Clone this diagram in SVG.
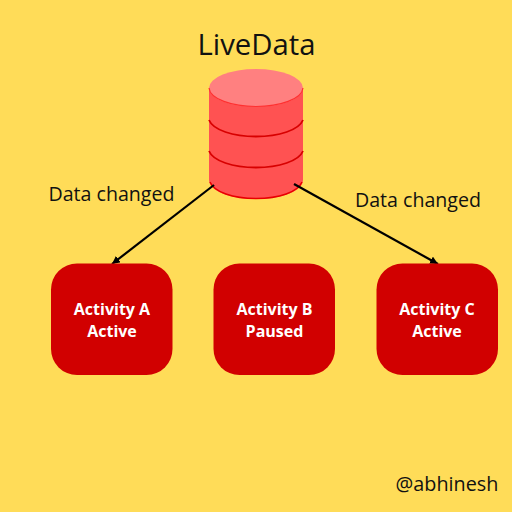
<svg xmlns="http://www.w3.org/2000/svg" width="512" height="512" viewBox="0 0 512 512">
<style>
.t{font-family:"Open Sans","Noto Sans",sans-serif;fill:#111}
.b{fill:#d10000}
.w{font-family:"Open Sans","Noto Sans",sans-serif;font-size:16px;font-weight:700;fill:#fff;text-anchor:middle}
.c{stroke:#000;stroke-width:2.200;fill:none;marker-end:url(#a)}
.r{fill:none;stroke:#d80000;stroke-width:1.800}
</style>
<defs><marker id="a" markerUnits="userSpaceOnUse" markerWidth="10" markerHeight="10" refX="8" refY="4" orient="auto"><path d="M0 0L8 4L0 8Z" fill="#000"/></marker></defs>
<rect width="512" height="512" fill="#ffdc58"/>
<text class="t" x="256.500" y="54.500" font-size="29.300" text-anchor="middle">LiveData</text>
<g id="livedata">
<path d="M209 88V180C209 191 230 199 256 199S303 191 303 180V88Z" fill="#ff5252"/>
<path d="M210 182C214 192 233 198.500 256 198.500S298 192 302 182" fill="none" stroke="#e80000" stroke-width="1.500"/>
<path class="r" d="M209 120C213 130 233 136.500 256 136.500S299 130 303 120"/>
<path class="r" d="M209 151C213 161 233 167.500 256 167.500S299 161 303 151"/>
<ellipse cx="256" cy="88" rx="47" ry="19" fill="#ff8080"/>
<path d="M209 88C210 99 232 106.500 256 106.500S302 99 303 88" fill="none" stroke="#ff3030" stroke-width="1.200"/>
</g>
<g id="connectors">
<line class="c" x1="214" y1="185" x2="112" y2="264"/>
<line class="c" x1="294" y1="184" x2="438" y2="264"/>
</g>
<text class="t" x="111.500" y="201" font-size="19.600" text-anchor="middle">Data changed</text>
<text class="t" x="418" y="207" font-size="19.600" text-anchor="middle">Data changed</text>
<g id="activity-a"><rect class="b" x="51" y="263.500" width="121.500" height="111.500" rx="26"/><text class="w" x="112" y="315">Activity A</text><text class="w" x="112" y="337">Active</text></g>
<g id="activity-b"><rect class="b" x="213.500" y="263.500" width="121.500" height="111.500" rx="26"/><text class="w" x="274.500" y="315">Activity B</text><text class="w" x="274.500" y="337">Paused</text></g>
<g id="activity-c"><rect class="b" x="376.500" y="263.500" width="121.500" height="111.500" rx="26"/><text class="w" x="437" y="315">Activity C</text><text class="w" x="437" y="337">Active</text></g>
<text class="t" x="447" y="491" font-size="19.800" text-anchor="middle">@abhinesh</text>
</svg>
